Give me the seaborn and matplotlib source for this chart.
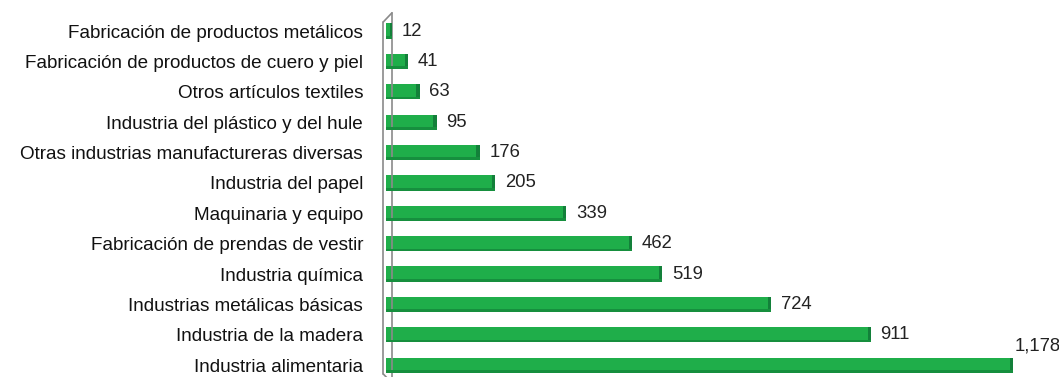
import matplotlib
matplotlib.use("Agg")
import matplotlib.pyplot as plt
from matplotlib.lines import Line2D
from matplotlib.patches import Rectangle
import seaborn as sns
import pandas as pd

categories = [
    "Fabricación de productos metálicos",
    "Fabricación de productos de cuero y piel",
    "Otros artículos textiles",
    "Industria del plástico y del hule",
    "Otras industrias manufactureras diversas",
    "Industria del papel",
    "Maquinaria y equipo",
    "Fabricación de prendas de vestir",
    "Industria química",
    "Industrias metálicas básicas",
    "Industria de la madera",
    "Industria alimentaria",
]
values = [12, 41, 63, 95, 176, 205, 339, 462, 519, 724, 911, 1178]

df = pd.DataFrame({"sector": categories, "valor": values})

sns.set_theme(style="white")
plt.rcParams["font.family"] = ["Liberation Sans", "DejaVu Sans"]

fig = plt.figure(figsize=(10.59, 3.77), dpi=100)
ax = fig.add_axes([0.3645, 0.003, 0.628, 0.963])

sns.barplot(data=df, x="valor", y="sector", orient="h", color="#1fae4a",
            saturation=1, width=0.5, ax=ax)

ax.set_xlim(0, 1250)
ax.set_ylim(11.35, -0.6)

# darker right face on each bar for a bevelled look
for p in ax.patches:
    x0, y0 = p.get_x(), p.get_y()
    w, h = p.get_width(), p.get_height()
    cap = min(6, w * 0.35)
    p.set_edgecolor("none")
    ax.add_patch(Rectangle((x0 + w - cap, y0), cap, h, color="#13803a", lw=0, zorder=3))
    ax.add_patch(Rectangle((x0, y0 + h * 0.82), w, h * 0.18, color="#168f3e", lw=0, zorder=3))

# value labels
for i, v in enumerate(values):
    txt = f"{v:,}"
    if i == len(values) - 1:
        ax.annotate(txt, (v, i), xytext=(1, 14), textcoords="offset points",
                    va="center", ha="left", fontsize=13.3, color="#222222")
    else:
        ax.annotate(txt, (v, i), xytext=(7, 0), textcoords="offset points",
                    va="center", ha="left", fontsize=13.3, color="#222222")

ax.set_xlabel("")
ax.set_ylabel("")
ax.set_xticks([])
ax.tick_params(axis="y", length=0, pad=16.5, labelsize=13.6, labelcolor="#111111")
for s in ax.spines.values():
    s.set_visible(False)

# side wall of the category axis
wall = dict(color="#8a8a8a", lw=1.2, transform=ax.transAxes, clip_on=False)
ax.add_line(Line2D([-0.004, -0.004], [0.005, 0.975], **wall))
ax.add_line(Line2D([0.009, 0.009], [-0.02, 1.0], **wall))
ax.add_line(Line2D([-0.004, 0.009], [0.975, 1.0], **wall))
ax.add_line(Line2D([-0.004, 0.009], [0.005, -0.02], **wall))

fig.savefig("out.png", dpi=100)
